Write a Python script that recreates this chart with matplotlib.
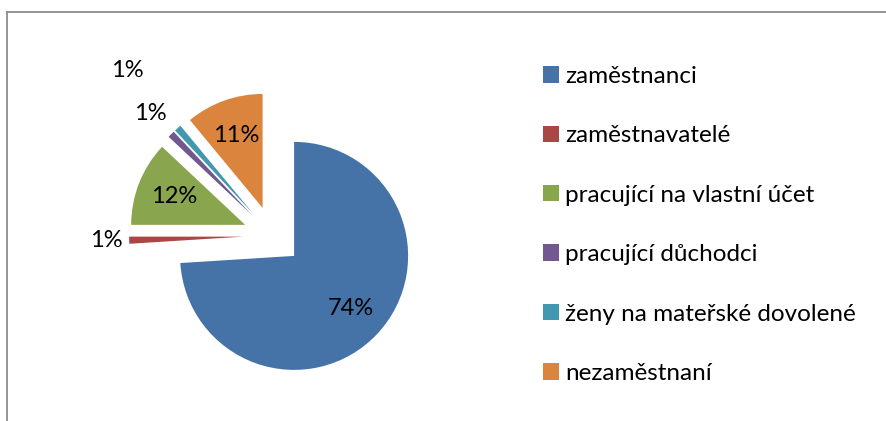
import numpy as np
import matplotlib.pyplot as plt
from matplotlib.lines import Line2D

categories = ['zaměstnanci', 'zaměstnavatelé', 'pracující na vlastní účet',
              'pracující důchodci', 'ženy na mateřské dovolené', 'nezaměstnaní']
shares = [74, 1, 12, 1, 1, 11]
colors = ['#4572A7', '#AA4643', '#89A54E', '#71588F', '#4198AF', '#DB843D']

# layout in pixels (axes spans the whole figure, 1 data unit = 1 px)
W, H = 886, 421
R = 114
CENTER = (272.6, H - 235.7)
EXPLODE = 29.5
label_dist = [0.68, 1.2, 0.67, 1.26, 1.67, 0.68]

plt.rcParams['font.family'] = ['Lato', 'DejaVu Sans']

fig = plt.figure(figsize=(W / 100, H / 100), dpi=100)
ax = fig.add_axes([0, 0, 1, 1])

wedges, _ = ax.pie(shares, colors=colors, startangle=90, counterclock=False,
                   radius=R, center=CENTER, explode=[EXPLODE] * len(shares),
                   wedgeprops=dict(linewidth=0))
ax.set_xlim(0, W)
ax.set_ylim(0, H)
ax.axis('off')

# percentage labels, placed along each wedge's middle angle
for w, v, d in zip(wedges, shares, label_dist):
    ang = np.deg2rad((w.theta1 + w.theta2) / 2)
    x = w.center[0] + d * w.r * np.cos(ang)
    y = w.center[1] + d * w.r * np.sin(ang)
    ax.text(x, y, f'{v}%', ha='center', va='center', fontsize=17, color='black')

ax.legend(wedges, categories, loc='upper left',
          bbox_to_anchor=(543 / W, 1 - 66 / H), frameon=False,
          fontsize=17.5, handlelength=0.66, handleheight=0.66,
          handletextpad=0.26, labelspacing=1.58, borderpad=0, borderaxespad=0)

# chart frame (cut off at right and bottom)
fx, fy = 7 / W, 1 - 12 / H
fig.add_artist(Line2D([fx, 1], [fy, fy], transform=fig.transFigure, color='#8c8c8c', lw=1.3))
fig.add_artist(Line2D([fx, fx], [0, fy], transform=fig.transFigure, color='#8c8c8c', lw=1.3))

fig.savefig('out.png', dpi=100)
